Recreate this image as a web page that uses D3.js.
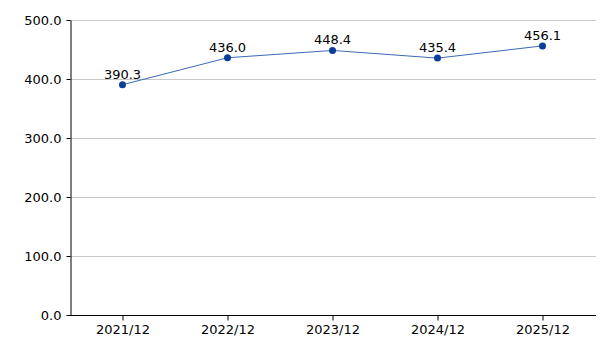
<!DOCTYPE html>
<html><head><meta charset="utf-8">
<script src="https://cdn.jsdelivr.net/npm/d3@7"></script>
<style>body{margin:0;background:#fff}svg{display:block}text{font-family:"DejaVu Sans",Verdana,sans-serif}</style>
</head><body><svg id="c" width="615" height="345"></svg>
<script>
const categories = ["2021/12","2022/12","2023/12","2024/12","2025/12"];
const values = [390.3, 436.0, 448.4, 435.4, 456.1];
const yTicks = [0,100,200,300,400,500];

const svg = d3.select("#c");
const m = {l:70, r:595, t:20, b:315};
const x = d3.scalePoint().domain(categories).range([m.l, m.r]).padding(0.5);
const y = d3.scaleLinear().domain([0,500]).range([m.b, m.t]);

svg.append("g").selectAll("line").data(yTicks.filter(d=>d>0)).join("line")
  .attr("x1", m.l).attr("x2", m.r+1).attr("y1", d=>y(d)+0.5).attr("y2", d=>y(d)+0.5)
  .attr("stroke", "#c8c8c8").attr("stroke-width", 1);

const ya = svg.append("g").attr("transform", `translate(${m.l+0.5},0)`)
  .call(d3.axisLeft(y).tickValues(yTicks).tickFormat(d3.format(".1f")).tickSize(4).tickSizeOuter(0));
ya.select(".domain").attr("stroke", "#000");
ya.selectAll(".tick line").attr("stroke", "#000");
ya.selectAll("text").attr("font-size", 13).attr("fill", "#000").attr("x", -9).attr("font-family", '"DejaVu Sans",Verdana,sans-serif');

const xa = svg.append("g").attr("transform", `translate(0,${m.b+0.5})`)
  .call(d3.axisBottom(x).tickSize(5).tickSizeOuter(0));
xa.select(".domain").attr("d", `M${m.l-2},0H${m.r+1}`).attr("stroke", "#000");
xa.selectAll(".tick line").attr("stroke", "#000");
xa.selectAll("text").attr("font-size", 13).attr("fill", "#000").attr("y", 9).attr("font-family", '"DejaVu Sans",Verdana,sans-serif');

const data = categories.map((c,i)=>({c, v: values[i]}));
svg.append("path").datum(data)
  .attr("d", d3.line().x(d=>x(d.c)).y(d=>y(d.v)))
  .attr("fill","none").attr("stroke","#3a6ab4").attr("stroke-width",1);
svg.append("g").selectAll("circle").data(data).join("circle")
  .attr("cx", d=>x(d.c)).attr("cy", d=>y(d.v)).attr("r", 3.5).attr("fill", "#0a3e98");
svg.append("g").selectAll("text").data(data).join("text")
  .attr("x", d=>x(d.c)).attr("y", d=>y(d.v)-6).attr("text-anchor","middle")
  .attr("font-size", 13).attr("fill","#000").text(d=>d.v.toFixed(1));
</script></body></html>
